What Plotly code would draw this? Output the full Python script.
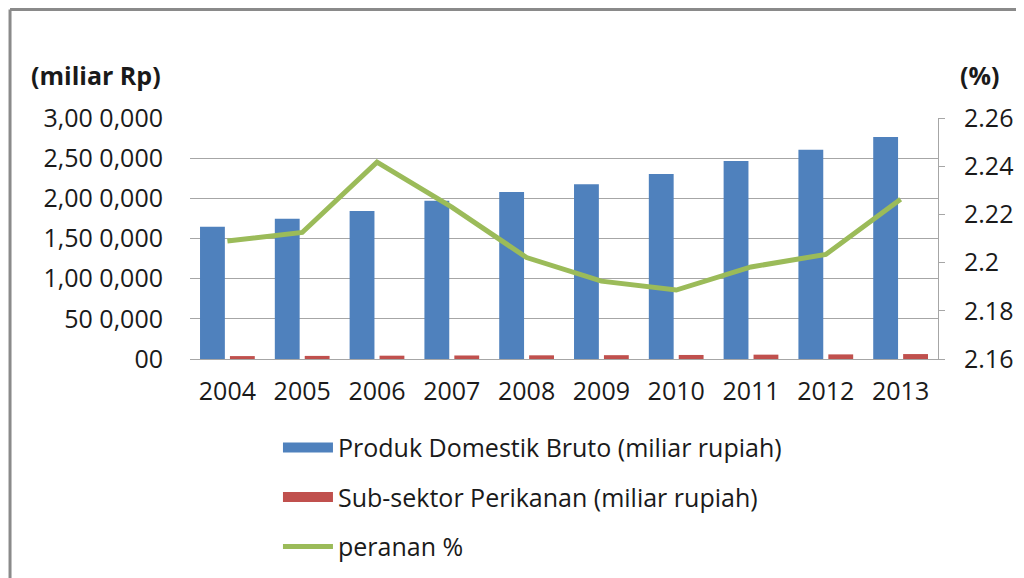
import plotly.graph_objects as go

years = ["2004", "2005", "2006", "2007", "2008", "2009", "2010", "2011", "2012", "2013"]
pdb = [1647000, 1746000, 1842000, 1970000, 2079000, 2174000, 2303000, 2465000, 2606000, 2764000]
perikanan = [36400, 38600, 41300, 43800, 45800, 47700, 50300, 54200, 57400, 61500]
peranan = [2.209, 2.2125, 2.2417, 2.223, 2.2021, 2.1923, 2.1886, 2.1982, 2.2034, 2.2263]

left_tickvals = [0, 500000, 1000000, 1500000, 2000000, 2500000, 3000000]
left_ticktext = ["00", "50 0,000", "1,00 0,000", "1,50 0,000", "2,00 0,000", "2,50 0,000", "3,00 0,000"]
right_tickvals = [2.16, 2.18, 2.20, 2.22, 2.24, 2.26]
right_ticktext = ["2.16", "2.18", "2.2", "2.22", "2.24", "2.26"]

names = ["Produk Domestik Bruto (miliar rupiah)", "Sub-sektor Perikanan (miliar rupiah)", "peranan %"]
colors = ["#4f81bd", "#c0504d", "#9bbb59"]

FONT = "Open Sans"
TXT = "#1a1a1a"
FS = 25

fig = go.Figure()
fig.add_trace(go.Bar(x=years, y=pdb, name=names[0], showlegend=False,
                     marker=dict(color=colors[0], line=dict(width=0))))
fig.add_trace(go.Bar(x=years, y=perikanan, name=names[1], showlegend=False,
                     marker=dict(color=colors[1], line=dict(width=0))))
fig.add_trace(go.Scatter(x=years, y=peranan, name=names[2], mode="lines", showlegend=False,
                         line=dict(color=colors[2], width=5), yaxis="y2"))
# legend entries (swatches like the original)
for i, (nm, col) in enumerate(zip(names, colors)):
    fig.add_trace(go.Scatter(x=[years[0]], y=[None], name=nm, mode="lines",
                             line=dict(color=col, width=14 if i < 2 else 5),
                             legendgroup=str(i), showlegend=True, hoverinfo="skip"))

bx = -0.2406
ty = 1.450
fig.update_layout(
    width=1024, height=578,
    margin=dict(l=182, r=94, t=110, b=227),
    paper_bgcolor="white", plot_bgcolor="white",
    font=dict(family=FONT, size=FS, color=TXT),
    barmode="group", bargap=0.2, bargroupgap=0.17,
    showlegend=True,
    legend=dict(x=0.1176, y=-0.273, xanchor="left", yanchor="top",
                font=dict(size=FS, family=FONT, color=TXT),
                traceorder="grouped", tracegroupgap=14, itemwidth=50,
                bgcolor="rgba(0,0,0,0)"),
    xaxis=dict(showline=True, linecolor="#a6a6a6", linewidth=1, ticks="",
               showgrid=False, tickfont=dict(size=FS, family=FONT, color=TXT),
               ticklabelstandoff=10),
    yaxis=dict(range=[0, 3000000], tickvals=left_tickvals, ticktext=left_ticktext,
               showgrid=True, gridcolor="#a6a6a6", gridwidth=1, zeroline=False,
               showline=False, ticks="", tickfont=dict(size=FS, family=FONT, color=TXT),
               ticklabelstandoff=26),
    yaxis2=dict(range=[2.16, 2.26], tickvals=right_tickvals, ticktext=right_ticktext,
                overlaying="y", side="right", showgrid=False, zeroline=False,
                showline=True, linecolor="#a6a6a6", linewidth=1,
                ticks="outside", ticklen=6, tickcolor="#a6a6a6",
                tickfont=dict(size=FS, family=FONT, color=TXT), ticklabelstandoff=14),
    annotations=[
        dict(text="<b>(miliar Rp)</b>", xref="paper", yref="paper", x=-0.1257, y=1.178,
             xanchor="center", yanchor="middle", showarrow=False,
             font=dict(size=FS, family=FONT, color=TXT)),
        dict(text="<b>(%)</b>", xref="paper", yref="paper", x=1.056, y=1.178,
             xanchor="center", yanchor="middle", showarrow=False,
             font=dict(size=FS, family=FONT, color=TXT)),
    ],
    shapes=[
        dict(type="line", xref="paper", yref="paper", x0=bx, x1=bx, y0=-1.0, y1=ty,
             line=dict(color="#8a8a8a", width=3)),
        dict(type="line", xref="paper", yref="paper", x0=bx, x1=1.2, y0=ty, y1=ty,
             line=dict(color="#8a8a8a", width=3)),
    ],
)

fig.write_html("out.html")
